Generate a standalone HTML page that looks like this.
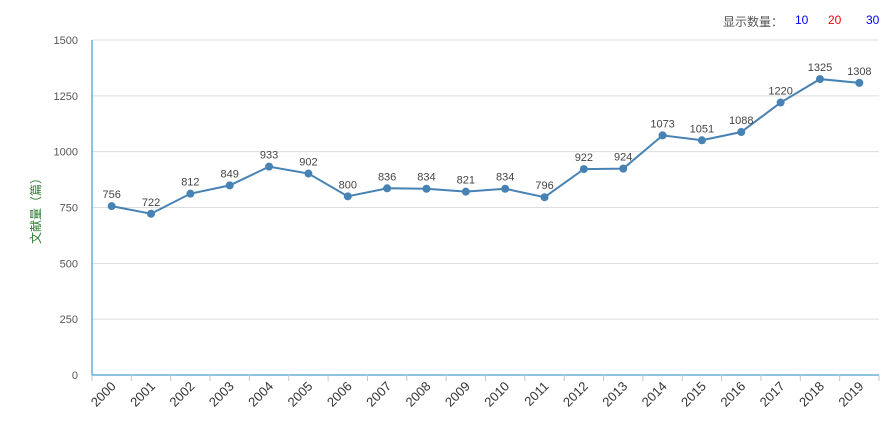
<!DOCTYPE html>
<html><head><meta charset="utf-8"><style>
body{margin:0;background:#fff;font-family:"Liberation Sans","Noto Sans CJK SC",sans-serif;}
#c{position:relative;width:895px;height:445px;overflow:hidden}
.ctl{position:absolute;top:13px;font-size:12px}
</style></head><body>
<div id="c">
<span class="ctl" style="left:723px;color:#555">显示数量：</span>
<span class="ctl" style="left:795px;color:#00f;cursor:pointer">10</span>
<span class="ctl" style="left:828px;color:#f00;cursor:pointer">20</span>
<span class="ctl" style="left:866px;color:#00f;cursor:pointer">30</span>
<svg id="s" width="895" height="445" style="position:absolute;left:0;top:0"></svg>
</div>
<script>
const categories=["2000","2001","2002","2003","2004","2005","2006","2007","2008","2009","2010","2011","2012","2013","2014","2015","2016","2017","2018","2019"];
const values=[756,722,812,849,933,902,800,836,834,821,834,796,922,924,1073,1051,1088,1220,1325,1308];
const yTicks=[0,250,500,750,1000,1250,1500];
const svg=document.getElementById('s');const NS='http://www.w3.org/2000/svg';
const L=92,R=879,T=40,B=375,yMax=1500;
const bw=(R-L)/categories.length;
const x=i=>L+bw*(i+0.5), y=v=>B-(B-T)*v/yMax;
function el(t,a,p){const e=document.createElementNS(NS,t);for(const k in a)e.setAttribute(k,a[k]);(p||svg).appendChild(e);return e;}
yTicks.forEach(v=>{
 if(v>0){const g=el('line',{x1:L,x2:R,y1:y(v),y2:y(v),stroke:'#ddd'});}
 const t=el('text',{x:L-14,y:y(v)+4,'text-anchor':'end','font-size':11,fill:'#555'});t.textContent=v;
 
});
const ya=el('line',{x1:L,x2:L,y1:T,y2:B,stroke:'#1a8ac6'});
const xa=el('line',{x1:L,x2:R,y1:B,y2:B,stroke:'#1a8ac6'});
const yt=el('text',{x:40,y:208,'text-anchor':'middle','font-size':12,fill:'#2e7d32',transform:'rotate(-90 40 208)'});yt.textContent='文献量（篇）';

for(let i=0;i<=categories.length;i++){el('line',{x1:L+bw*i,x2:L+bw*i,y1:B,y2:B+6,stroke:'#c0c8d0'});}
categories.forEach((c,i)=>{const tx=x(i)+5,ty=B+12;
 const t=el('text',{x:tx,y:ty,'text-anchor':'end','font-size':13,fill:'#333',transform:`rotate(-45 ${tx} ${ty})`});t.textContent=c;
 });
const ln=el('polyline',{points:values.map((v,i)=>x(i)+','+y(v)).join(' '),fill:'none',stroke:'#4682b4','stroke-width':2});

values.forEach((v,i)=>{
 const p=el('circle',{cx:x(i),cy:y(v),r:4,fill:'#4682b4'});
 const t=el('text',{x:x(i),y:y(v)-8,'text-anchor':'middle','font-size':11,fill:'#444'});t.textContent=v;
 
});
</script></body></html>
